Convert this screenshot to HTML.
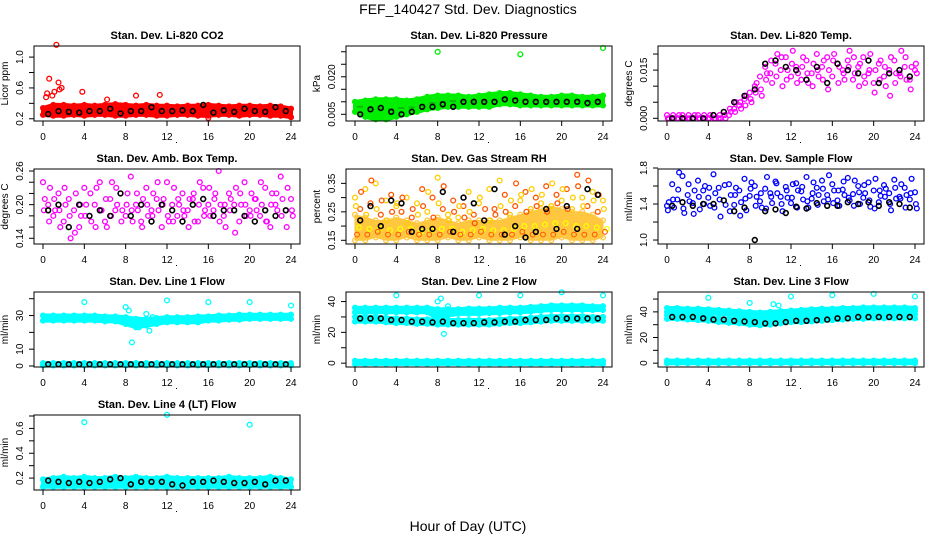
<!DOCTYPE html>
<html><head><meta charset="utf-8"><style>
html,body{margin:0;padding:0;background:#fff;}
svg{display:block;font-family:"Liberation Sans",Arial,sans-serif;}
</style></head><body>
<svg id="chart" width="936" height="540" viewBox="0 0 936 540" xmlns="http://www.w3.org/2000/svg">
<rect x="0" y="0" width="936" height="540" fill="#fff"/>
<text x="468" y="14" font-size="14" text-anchor="middle">FEF_140427  Std. Dev. Diagnostics</text>
<text x="468" y="531" font-size="14" text-anchor="middle">Hour of Day (UTC)</text>
</svg>
<script>
const xTicks = [0,4,8,12,16,20,24];
const hours = [0,1,2,3,4,5,6,7,8,9,10,11,12,13,14,15,16,17,18,19,20,21,22,23,24];

const co2Lo = [0.25,0.24,0.24,0.25,0.24,0.25,0.25,0.24,0.24,0.25,0.25,0.24,0.24,0.25,0.25,0.24,0.24,0.25,0.25,0.24,0.25,0.25,0.24,0.24,0.22];
const co2Hi = [0.34,0.38,0.38,0.37,0.38,0.37,0.38,0.39,0.38,0.37,0.38,0.37,0.37,0.36,0.37,0.37,0.38,0.37,0.36,0.37,0.37,0.36,0.37,0.36,0.33];
const co2OutX = [0.3,0.4,0.6,0.9,1.1,1.3,1.5,1.6,1.8,3.8,6.2,9.0,11.3,16.0];
const co2OutY = [0.48,0.53,0.72,0.50,0.55,1.16,0.67,0.58,0.60,0.55,0.45,0.50,0.51,0.21];
const co2Black = [0.26,0.30,0.29,0.28,0.30,0.30,0.33,0.27,0.30,0.30,0.35,0.30,0.30,0.31,0.30,0.38,0.28,0.31,0.29,0.33,0.30,0.29,0.35,0.30];

const presLo = [0.006,0.004,0.003,0.003,0.004,0.005,0.006,0.007,0.0075,0.008,0.008,0.008,0.008,0.008,0.009,0.009,0.0085,0.0085,0.0085,0.0085,0.0085,0.0085,0.0085,0.0085,0.0085];
const presHi = [0.010,0.0105,0.011,0.011,0.011,0.0105,0.011,0.012,0.0125,0.0125,0.0125,0.012,0.0125,0.013,0.0135,0.0135,0.013,0.0125,0.012,0.012,0.0125,0.0125,0.012,0.012,0.0125];
const presOutX = [8,16,24];
const presOutY = [0.030,0.029,0.0315];
const presBlack = [0.005,0.007,0.0075,0.006,0.005,0.006,0.008,0.008,0.009,0.008,0.010,0.010,0.010,0.010,0.011,0.0105,0.010,0.010,0.010,0.010,0.010,0.010,0.0095,0.010];

const tempA = [0.001,0,0,0.001,0,0,0.001,0,0,0.001,0,0.002,0.001,0.003,0.004,0.006,0.008,0.010,0.013,0.016,0.014,0.017,0.015,0.019,0.013,0.016,0.012,0.018,0.014,0.020,0.016,0.019,0.013,0.017,0.015,0.018,0.012,0.016,0.019,0.014,0.011,0.017,0.013,0.015,0.018,0.014,0.016,0.012,0.015];
const tempB = [0,0.001,0,0,0.001,0,0,0.001,0,0,0.001,0.001,0.003,0.002,0.005,0.004,0.006,0.008,0.009,0.012,0.018,0.013,0.019,0.012,0.017,0.011,0.016,0.014,0.010,0.015,0.012,0.009,0.018,0.011,0.014,0.016,0.019,0.010,0.013,0.015,0.008,0.012,0.016,0.007,0.011,0.013,0.019,0.009,0.017];
const tempC = [0,0,0.001,0,0,0.001,0,0,0.001,0,0,0,0.002,0.005,0.003,0.007,0.005,0.011,0.007,0.014,0.011,0.020,0.010,0.015,0.021,0.014,0.019,0.011,0.017,0.013,0.018,0.015,0.020,0.016,0.012,0.021,0.014,0.017,0.011,0.020,0.015,0.018,0.010,0.019,0.014,0.021,0.012,0.016,0.014];
const tempBlack = [0,0,0,0,0.001,0.002,0.005,0.007,0.009,0.017,0.018,0.016,0.015,0.012,0.016,0.011,0.017,0.015,0.014,0.018,0.011,0.014,0.015,0.013];

const ambA = [0.24,0.20,0.18,0.22,0.17,0.21,0.19,0.16,0.23,0.18,0.20,0.24,0.17,0.21,0.19,0.22,0.18,0.25,0.20,0.17,0.23,0.19,0.21,0.16,0.24,0.20,0.18,0.22,0.19,0.21,0.17,0.23,0.20,0.19,0.26,0.18,0.22,0.20,0.17,0.24,0.19,0.21,0.18,0.23,0.16,0.20,0.25,0.19,0.21];
const ambB = [0.19,0.17,0.21,0.19,0.23,0.18,0.15,0.20,0.18,0.22,0.16,0.19,0.21,0.18,0.23,0.17,0.20,0.19,0.22,0.16,0.20,0.18,0.24,0.20,0.18,0.17,0.21,0.19,0.16,0.22,0.20,0.18,0.23,0.21,0.17,0.20,0.19,0.15,0.22,0.20,0.18,0.21,0.24,0.17,0.20,0.22,0.18,0.16,0.19];
const ambC = [0.21,0.23,0.19,0.16,0.20,0.14,0.22,0.18,0.20,0.17,0.23,0.19,0.16,0.24,0.20,0.19,0.22,0.17,0.19,0.21,0.18,0.22,0.19,0.21,0.17,0.23,0.20,0.18,0.21,0.17,0.24,0.19,0.18,0.22,0.20,0.16,0.21,0.23,0.20,0.18,0.22,0.19,0.20,0.17,0.22,0.19,0.21,0.23,0.18];
const ambBlack = [0.19,0.20,0.16,0.20,0.18,0.19,0.18,0.22,0.18,0.20,0.17,0.20,0.19,0.17,0.20,0.21,0.18,0.19,0.19,0.18,0.17,0.19,0.18,0.19];

const rhLo = [0.15,0.15,0.16,0.15,0.15,0.16,0.15,0.15,0.15,0.16,0.15,0.15,0.16,0.15,0.15,0.15,0.16,0.15,0.15,0.15,0.16,0.15,0.15,0.15,0.16];
const rhHi = [0.24,0.23,0.22,0.22,0.23,0.22,0.21,0.22,0.23,0.22,0.21,0.22,0.22,0.22,0.22,0.23,0.24,0.25,0.26,0.27,0.26,0.25,0.25,0.24,0.22];
const rhA = [0.30,0.26,0.33,0.28,0.35,0.24,0.29,0.31,0.27,0.25,0.30,0.23,0.28,0.33,0.25,0.30,0.37,0.26,0.24,0.29,0.23,0.27,0.32,0.24,0.28,0.22,0.33,0.26,0.36,0.31,0.24,0.27,0.29,0.32,0.26,0.30,0.28,0.34,0.27,0.31,0.29,0.33,0.26,0.38,0.30,0.27,0.32,0.25,0.29];
const rhB = [0.27,0.32,0.24,0.36,0.26,0.29,0.22,0.25,0.28,0.30,0.21,0.26,0.24,0.27,0.32,0.23,0.28,0.34,0.22,0.25,0.27,0.23,0.25,0.21,0.30,0.26,0.22,0.24,0.27,0.25,0.29,0.35,0.31,0.25,0.33,0.27,0.31,0.25,0.35,0.28,0.33,0.26,0.30,0.34,0.27,0.36,0.29,0.31,0.26];
const rhBlack = [0.22,0.27,0.20,0.29,0.28,0.18,0.19,0.19,0.32,0.18,0.30,0.28,0.22,0.33,0.17,0.20,0.16,0.18,0.26,0.19,0.27,0.19,0.33,0.31];

const flowA = [1.38,1.62,1.45,1.71,1.50,1.41,1.66,1.55,1.47,1.73,1.58,1.44,1.62,1.39,1.55,1.68,1.49,1.60,1.43,1.57,1.52,1.65,1.48,1.59,1.41,1.63,1.54,1.70,1.46,1.58,1.66,1.50,1.62,1.44,1.56,1.69,1.51,1.60,1.47,1.64,1.55,1.42,1.61,1.52,1.67,1.48,1.58,1.45,1.53];
const flowB = [1.33,1.45,1.56,1.35,1.62,1.29,1.48,1.40,1.58,1.36,1.45,1.61,1.32,1.50,1.27,1.46,1.57,1.38,1.52,1.35,1.48,1.63,1.40,1.55,1.47,1.36,1.59,1.43,1.52,1.39,1.57,1.45,1.41,1.55,1.65,1.47,1.38,1.53,1.61,1.44,1.35,1.55,1.48,1.40,1.58,1.46,1.36,1.52,1.40];
const flowC = [1.42,1.36,1.75,1.30,1.43,1.55,1.34,1.60,1.38,1.52,1.26,1.39,1.50,1.58,1.42,1.33,1.64,1.48,1.36,1.70,1.41,1.52,1.32,1.47,1.62,1.55,1.45,1.36,1.64,1.50,1.43,1.72,1.55,1.38,1.50,1.44,1.66,1.40,1.52,1.37,1.68,1.49,1.57,1.33,1.46,1.62,1.50,1.68,1.35];
const flowBlack = [1.38,1.42,1.38,1.40,1.40,1.44,1.32,1.36,1.00,1.32,1.34,1.30,1.37,1.35,1.41,1.38,1.38,1.42,1.40,1.42,1.38,1.42,1.40,1.36];

const l1Lo = [27,27,27,27,27,27,26.5,26.5,25,23,24,25,26,26,26,26,27,27,27.5,27.5,28,28,28,28,28];
const l1Hi = [30,30,30,30,30,30,29.5,29.5,29,28,28,28.5,29,29,29,29.5,29.5,30,30,30.5,30.5,30.5,30.5,30.5,30.5];
const l1ZeroLo = [0.3,0.3,0.3,0.3,0.3,0.3,0.3,0.3,0.3,0.3,0.3,0.3,0.3,0.3,0.3,0.3,0.3,0.3,0.3,0.3,0.3,0.3,0.3,0.3,0.3];
const l1ZeroHi = [1.7,1.7,1.7,1.7,1.7,1.7,1.7,1.7,1.7,1.7,1.7,1.7,1.7,1.7,1.7,1.7,1.7,1.7,1.7,1.7,1.7,1.7,1.7,1.7,1.7];
const l1OutX = [4,8,8.3,8.6,9,9.3,10,10.3,10.6,12,16,20,24];
const l1OutY = [38,35,33,14,28,23,31,21,29,39,38,38,36];
const l1Black = [1,1,1,1,1,1,1,1,1,1,1,1,1,1,1,1,1,1,1,1,1,1,1,1];

const l2Lo = [33,33,33,33,33,33,33,33,29,31,32,32,32,32.5,32.5,33,33,33.5,34,34.5,34.5,34.5,34.5,34.5,34.5];
const l2Hi = [36,36,36,36,36,36,36,36,35,35,35,35.5,35.5,35.5,36,36,36,36.5,37,37.5,37.5,37.5,37.5,37,37];
const l2Lo2 = [27,27,27,26.5,26,26,25.5,25.5,25,25,25,25,25,25,25.5,26,26,26.5,27,27.5,27.5,27.5,27.5,27.5,27.5];
const l2Hi2 = [30,30,30,29.5,29,29,28.5,28.5,28,28,28,28,28,28,28.5,29,29,29.5,30,30.5,30.5,30.5,30.5,30,30];
const l2ZeroLo = [-0.5,-0.5,-0.5,-0.5,-0.5,-0.5,-0.5,-0.5,-0.5,-0.5,-0.5,-0.5,-0.5,-0.5,-0.5,-0.5,-0.5,-0.5,-0.5,-0.5,-0.5,-0.5,-0.5,-0.5,-0.5];
const l2ZeroHi = [1.5,1.5,1.5,1.5,1.5,1.5,1.5,1.5,1.5,1.5,1.5,1.5,1.5,1.5,1.5,1.5,1.5,1.5,1.5,1.5,1.5,1.5,1.5,1.5,1.5];
const l2OutX = [4,8,8.3,8.6,9,12,16,20,24];
const l2OutY = [44,40,42,19,37,44,44,46,44];
const l2Black = [29,29,29,28,28,27,27,26.5,27,26,26,26,26.5,26.5,27,27,28,28,28,29,29,29,29,29];

const l3Lo = [40,40,39.5,39.5,39,38.5,38,37,36,35,35,36.5,37.5,38,38.5,39,39.5,40,40,40.5,40.5,40.5,40.5,40.5,40.5];
const l3Hi = [43,43,42.5,42.5,42,41.5,41,40.5,40,39.5,40,40.5,41,41.5,42,42.5,42.5,43,43,43.5,43.5,43.5,43.5,43.5,43];
const l3Lo2 = [34.5,34.5,34,33.5,33,32,31.5,31,30,29.5,30,31,32,32,32.5,33,33.5,34,34.5,34.5,35,35,35,35,35];
const l3Hi2 = [37.5,37.5,37,36.5,36,35,34.5,34,33,32.5,33,34,35,35,35.5,36,36.5,37,37.5,37.5,38,38,38,38,38];
const l3ZeroLo = [0,0,0,0,0,0,0,0,0,0,0,0,0,0,0,0,0,0,0,0,0,0,0,0,0];
const l3ZeroHi = [2,2,2,2,2,2,2,2,2,2,2,2,2,2,2,2,2,2,2,2,2,2,2,2,2];
const l3OutX = [4,8,10.3,10.8,12,16,20,24];
const l3OutY = [51,47,46,45,52,53,54,52];
const l3Black = [36,36,36,35,34,34,33,32.5,32,31,31,32,33,33,33.5,34,35,35,36,36,36,36,36,36];

const l4Lo = [0.13,0.13,0.13,0.13,0.13,0.13,0.13,0.13,0.13,0.13,0.13,0.13,0.13,0.13,0.13,0.13,0.13,0.13,0.13,0.13,0.13,0.13,0.13,0.13,0.13];
const l4Hi = [0.19,0.20,0.21,0.20,0.21,0.20,0.20,0.21,0.20,0.21,0.20,0.20,0.21,0.20,0.20,0.20,0.20,0.20,0.21,0.20,0.20,0.20,0.21,0.20,0.19];
const l4OutX = [4,12,20];
const l4OutY = [0.65,0.71,0.63];
const l4Black = [0.18,0.17,0.16,0.17,0.16,0.17,0.19,0.20,0.15,0.17,0.17,0.17,0.15,0.14,0.17,0.17,0.18,0.17,0.16,0.16,0.17,0.15,0.18,0.18];

const NS = "http://www.w3.org/2000/svg";
const svg = document.getElementById('chart');
function mk(tag, attrs, parent){const e=document.createElementNS(NS,tag);for(const k in attrs)e.setAttribute(k,attrs[k]);(parent||svg).appendChild(e);return e;}

const panels = [
 {key:'co2',title:'Stan. Dev. Li-820 CO2',col:0,row:0,lim:[0.171,1.144],ticks:[0.2,0.4,0.6,0.8,1.0],labels:['0.2','','0.6','','1.0'],ylab:'Licor ppm',color:'#ff0000',
  bands:[[co2Lo,co2Hi]],scat:[],outX:co2OutX,outY:co2OutY,black:co2Black},
 {key:'pressure',title:'Stan. Dev. Li-820 Pressure',col:1,row:0,lim:[0.00232,0.0323],ticks:[0.005,0.010,0.015,0.020,0.025,0.030],labels:['0.005','','','0.020','',''],ylab:'kPa',color:'#00ee00',
  bands:[[presLo,presHi]],scat:[],outX:presOutX,outY:presOutY,black:presBlack},
 {key:'temp',title:'Stan. Dev. Li-820 Temp.',col:2,row:0,lim:[-0.00084,0.0225],ticks:[0,0.005,0.010,0.015,0.020],labels:['0.000','','','0.015',''],ylab:'degrees C',color:'#ff00ff',
  bands:[],scat:[tempA,tempB,tempC],outX:[],outY:[],black:tempBlack},
 {key:'ambbox',title:'Stan. Dev. Amb. Box Temp.',col:0,row:1,lim:[0.1298,0.2636],ticks:[0.14,0.16,0.18,0.20,0.22,0.24,0.26],labels:['0.14','','','0.20','','','0.26'],ylab:'degrees C',color:'#ff00ff',
  bands:[],scat:[ambA,ambB,ambC],outX:[],outY:[],black:ambBlack},
 {key:'rh',title:'Stan. Dev. Gas Stream RH',col:1,row:1,lim:[0.137,0.4005],ticks:[0.15,0.20,0.25,0.30,0.35],labels:['0.15','','0.25','','0.35'],ylab:'percent',color:'#ffc640',
  bands:[[rhLo,rhHi]],scat:[rhA,rhB],outX:[],outY:[],black:rhBlack},
 {key:'sampleflow',title:'Stan. Dev. Sample Flow',col:2,row:1,lim:[0.956,1.789],ticks:[1.0,1.2,1.4,1.6,1.8],labels:['1.0','','1.4','','1.8'],ylab:'ml/min',color:'#0000ff',
  bands:[],scat:[flowA,flowB,flowC],outX:[],outY:[],black:flowBlack},
 {key:'line1',title:'Stan. Dev. Line 1 Flow',col:0,row:2,lim:[-0.6,44],ticks:[0,10,20,30,40],labels:['0','10','','30',''],ylab:'ml/min',color:'#00ffff',
  bands:[[l1Lo,l1Hi],[l1ZeroLo,l1ZeroHi]],scat:[],outX:l1OutX,outY:l1OutY,black:l1Black},
 {key:'line2',title:'Stan. Dev. Line 2 Flow',col:1,row:2,lim:[-2.5,46.2],ticks:[0,10,20,30,40],labels:['0','','20','','40'],ylab:'ml/min',color:'#00ffff',
  bands:[[l2Lo,l2Hi],[l2Lo2,l2Hi2],[l2ZeroLo,l2ZeroHi]],scat:[],outX:l2OutX,outY:l2OutY,black:l2Black},
 {key:'line3',title:'Stan. Dev. Line 3 Flow',col:2,row:2,lim:[-3,55.5],ticks:[0,10,20,30,40,50],labels:['0','','20','','40',''],ylab:'ml/min',color:'#00ffff',
  bands:[[l3Lo,l3Hi],[l3Lo2,l3Hi2],[l3ZeroLo,l3ZeroHi]],scat:[],outX:l3OutX,outY:l3OutY,black:l3Black},
 {key:'line4',title:'Stan. Dev. Line 4 (LT) Flow',col:0,row:3,lim:[0.104,0.708],ticks:[0.2,0.3,0.4,0.5,0.6,0.7],labels:['0.2','','0.4','','0.6',''],ylab:'ml/min',color:'#00ffff',
  bands:[[l4Lo,l4Hi]],scat:[],outX:l4OutX,outY:l4OutY,black:l4Black}
];

function circ(g,cx,cy,color,sw){
  const c=mk('circle',{cx:cx.toFixed(1),cy:cy.toFixed(1),r:2.4,fill:'none',stroke:color,'stroke-width':sw||1.3},g);
  
  
  return c;
}

panels.forEach(p=>{
  const L=34+312*p.col, T=46+123*p.row, W=266, H=75, B=T+H;
  const xs=h=>L+9+h*248/24;
  const ys=v=>B-(v-p.lim[0])/(p.lim[1]-p.lim[0])*H;
  const g=mk('g',{});
  
  
  const t=mk('text',{x:L+W/2,y:T-7,'font-size':11,'font-weight':'bold','text-anchor':'middle'},g);
  t.textContent=p.title;
  
  
  p.bands.forEach((bd,bi)=>{
    const lo=bd[0], hi=bd[1];
    let pts=hours.map((h,i)=>xs(h)+','+ys(hi[i]).toFixed(1));
    pts=pts.concat(hours.slice().reverse().map((h,j)=>{const i=hours.length-1-j;return xs(h)+','+ys(lo[i]).toFixed(1);}));
    const sw = p.key==='rh' ? 1 : 4;
    const poly=mk('polygon',{points:pts.join(' '),fill:p.color,stroke:p.color,'stroke-width':sw,'stroke-linejoin':'round'},g);
    
    
    hours.forEach((h,i)=>{circ(g,xs(h),ys(lo[i]),p.color);circ(g,xs(h),ys(hi[i]),p.color);});
  });
  if(p.key==='pressure'){
    hours.forEach((h,i)=>{ if(i<24){const d=mk('rect',{x:xs(h)+2,y:ys((presLo[i]+presHi[i])/2)-1,width:6,height:2,fill:'#225522',opacity:0.35},g);
      }});
  }
  if(p.key==='rh'){
    hours.forEach((h,i)=>{circ(g,xs(h)+4,ys((rhLo[i]+rhHi[i])/2),'#ffff00');circ(g,xs(h)+2,ys(rhLo[i]+0.02),'#ff5500',1);});
  }
  p.scat.forEach((arr,si)=>{
    arr.forEach((v,i)=>{
      const h=i*24/(arr.length-1);
      const col = p.key==='rh' ? (i%2? '#ff5500':'#ffcc00') : p.color;
      circ(g,xs(h)+si*0.9,ys(v),col);
    });
  });
  p.outX.forEach((h,i)=>circ(g,xs(h),ys(p.outY[i]),p.color));
  p.black.forEach((v,i)=>circ(g,xs(i+0.5),ys(v),'#000',1.6));
  const box=mk('rect',{x:L,y:T,width:W,height:H,fill:'none',stroke:'#000','stroke-width':1},g);
  
  
  xTicks.forEach(h=>{
    mk('line',{x1:xs(h),y1:B,x2:xs(h),y2:B+5,stroke:'#000'},g);
    const tl=mk('text',{x:xs(h),y:B+19,'font-size':10,'text-anchor':'middle'},g);
    tl.textContent=String(h);
    
    
  });
  mk('rect',{x:L+142,y:B+21,width:1,height:1,fill:'#000'},g);
  p.ticks.forEach((v,i)=>{
    mk('line',{x1:L-5,y1:ys(v),x2:L,y2:ys(v),stroke:'#000'},g);
    if(p.labels[i]){
      const yl=mk('text',{x:L-11,y:ys(v),'font-size':10,'text-anchor':'middle',transform:'rotate(-90 '+(L-11)+' '+ys(v)+')'},g);
      yl.textContent=p.labels[i];
      
      
    }
  });
  const yt=mk('text',{x:L-26,y:T+H/2,'font-size':10,'text-anchor':'middle',transform:'rotate(-90 '+(L-26)+' '+(T+H/2)+')'},g);
  yt.textContent=p.ylab;
  
  
});
</script>
</body></html>
